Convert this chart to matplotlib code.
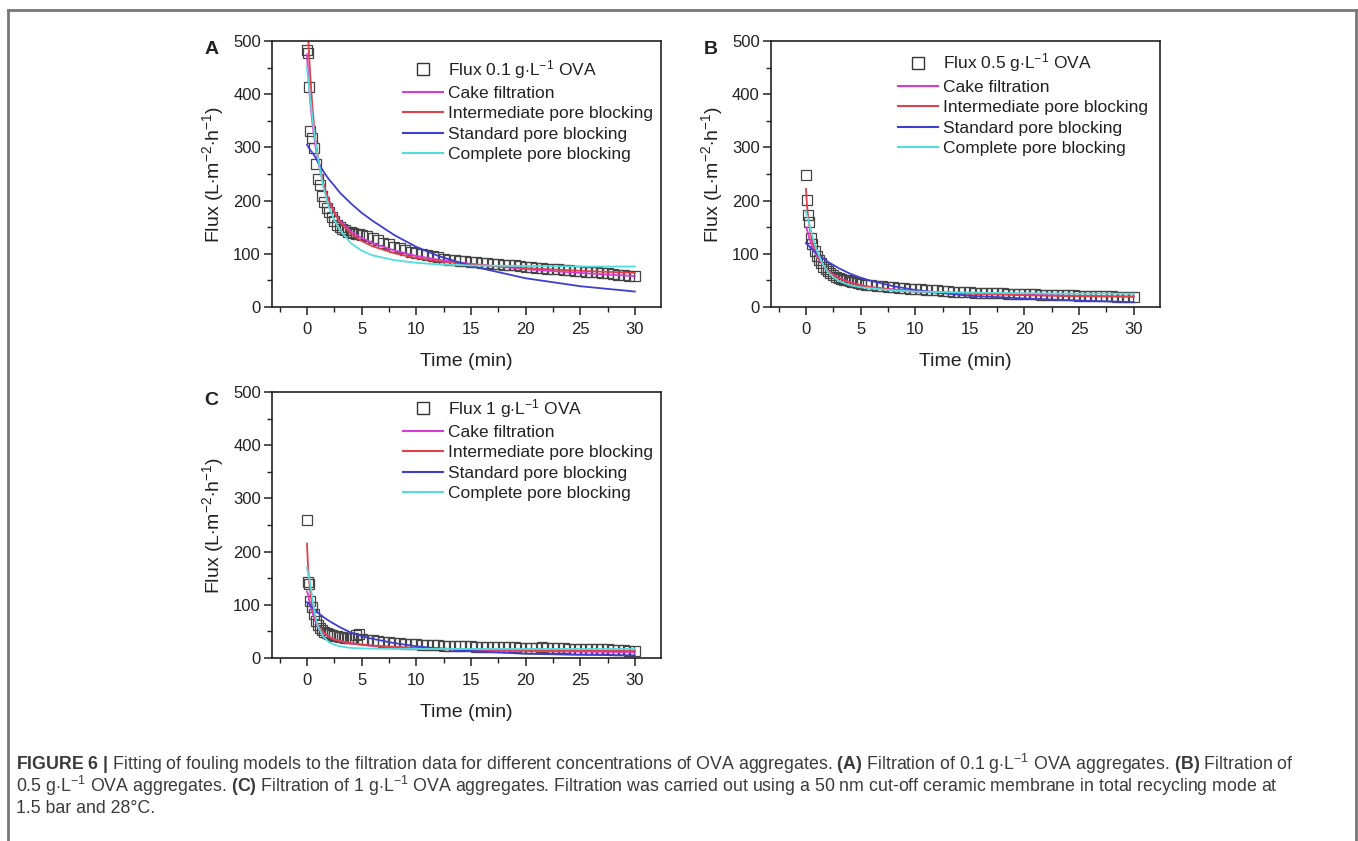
import matplotlib
matplotlib.use("Agg")
import matplotlib.pyplot as plt
from matplotlib.lines import Line2D
from matplotlib.ticker import MultipleLocator

plt.rcParams["font.family"] = ["Liberation Sans", "DejaVu Sans"]
plt.rcParams["mathtext.fontset"] = "custom"
plt.rcParams["mathtext.rm"] = "Liberation Sans"
plt.rcParams["mathtext.it"] = "Liberation Sans:italic"
plt.rcParams["mathtext.bf"] = "Liberation Sans:bold"

# measured flux (shared sampling times, min)
time_data = [0.0, 0.1, 0.2, 0.3, 0.45, 0.6, 0.8, 1.0, 1.2, 1.4, 1.6, 1.8, 2.0, 2.25,
             2.5, 2.75, 3.0, 3.25, 3.5, 3.75, 4.0, 4.25, 4.5, 4.75,
             5.0, 5.5, 6.0, 6.5, 7.0, 7.5, 8.0, 8.5, 9.0, 9.5, 10.0, 10.5, 11.0, 11.5,
             12.0, 12.5, 13.0, 13.5, 14.0, 14.5, 15.0, 15.5, 16.0, 16.5, 17.0, 17.5,
             18.0, 18.5, 19.0, 19.5, 20.0, 20.5, 21.0, 21.5, 22.0, 22.5, 23.0, 23.5,
             24.0, 24.5, 25.0, 25.5, 26.0, 26.5, 27.0, 27.5, 28.0, 28.5, 29.0, 29.5, 30.0]

flux_a = [483, 478, 413, 330, 318, 298, 268, 240, 230, 208, 198, 186, 178, 170,
          162, 155, 150, 146, 144, 141, 140, 139, 137, 138,
          136, 133, 130, 125, 121, 118, 113, 110, 107, 104, 101, 100, 97, 95,
          93, 91, 89, 88, 87, 86, 85, 84, 83, 82, 81, 80,
          79, 78, 78, 77, 76, 75, 74, 73, 72, 72, 71, 70,
          69, 68, 67, 66, 66, 65, 64, 63, 62, 61, 60, 59, 58]
flux_b = [248, 201, 172, 160, 130, 118, 105, 95, 88, 82, 76, 72, 68, 64,
          60, 57, 55, 53, 51, 50, 48, 47, 46, 45,
          44, 42, 41, 40, 39, 38, 37, 36, 35, 34, 33, 33, 32, 31,
          31, 30, 30, 29, 29, 28, 28, 27, 27, 27, 26, 26,
          26, 25, 25, 25, 24, 24, 24, 23, 23, 23, 22, 22,
          22, 22, 21, 21, 21, 20, 20, 20, 20, 19, 19, 19, 18]
flux_c = [260, 143, 140, 108, 95, 82, 70, 62, 56, 52, 49, 47, 45, 43,
          42, 41, 40, 39, 38, 38, 37, 38, 44, 45,
          36, 34, 33, 32, 31, 30, 29, 28, 27, 26, 26, 25, 25, 24,
          24, 23, 23, 23, 22, 22, 22, 21, 21, 21, 21, 20,
          20, 20, 20, 19, 19, 19, 19, 20, 18, 18, 18, 18,
          17, 17, 17, 17, 16, 16, 16, 16, 15, 15, 15, 14, 14]

# model fits
time_fit = [0, 0.1, 0.2, 0.3, 0.5, 0.75, 1, 1.5, 2, 2.5, 3, 4, 5, 6, 8, 10, 12, 15, 20, 25, 30]

cake_a = [475, 440, 410, 385, 345, 305, 275, 230, 200, 178, 162, 142, 130, 120, 106, 96, 89, 81, 71, 64, 58]
inter_a = [560, 510, 470, 435, 375, 320, 282, 232, 200, 177, 160, 138, 124, 114, 101, 92, 86, 80, 73, 68, 64]
std_a = [305, 302, 298, 295, 290, 282, 272, 255, 240, 228, 215, 195, 177, 162, 135, 113, 96, 77, 54, 39, 29]
comp_a = [450, 430, 410, 392, 355, 315, 280, 225, 188, 163, 145, 120, 106, 97, 88, 83, 80, 78, 77, 76, 76]

cake_b = [150, 145, 138, 130, 118, 105, 95, 80, 68, 61, 55, 47, 41, 37, 33, 30, 28, 26, 23, 21, 20]
inter_b = [222, 190, 170, 155, 130, 112, 98, 80, 68, 60, 54, 46, 41, 37, 32, 29, 27, 25, 22, 20, 19]
std_b = [120, 118, 116, 114, 110, 105, 100, 92, 85, 79, 73, 63, 55, 49, 39, 32, 27, 21, 16, 12, 9]
comp_b = [180, 172, 165, 157, 140, 122, 106, 82, 66, 56, 49, 41, 37, 35, 31, 29, 28, 27, 26, 25, 25]

cake_c = [125, 120, 108, 100, 85, 70, 58, 47, 40, 35, 32, 27, 25, 23, 20, 18, 17, 15, 13, 12, 11]
inter_c = [215, 170, 145, 125, 95, 75, 62, 48, 40, 35, 32, 28, 25, 23, 21, 19, 18, 16, 15, 14, 13]
std_c = [105, 103, 101, 99, 95, 90, 85, 77, 70, 64, 58, 48, 41, 36, 28, 22, 18, 13, 8, 6, 5]
comp_c = [170, 160, 150, 140, 110, 80, 60, 40, 30, 25, 22, 19, 18, 17.5, 17, 17, 17, 17, 17, 17, 17]

model_names = ["Cake filtration", "Intermediate pore blocking",
               "Standard pore blocking", "Complete pore blocking"]
model_colors = ["#d83ad8", "#e2404a", "#3f3fcf", "#55dcdc"]

panels = [
    ("A", "0.1", flux_a, [cake_a, inter_a, std_a, comp_a], [0.2003, 0.6350], (0.337, 0.937)),
    ("B", "0.5", flux_b, [cake_b, inter_b, std_b, comp_b], [0.5677, 0.6350], (0.326, 0.960)),
    ("C", "1", flux_c, [cake_c, inter_c, std_c, comp_c], [0.2003, 0.2176], (0.337, 0.982)),
]

TXT = "#222222"
fig = plt.figure(figsize=(13.58, 8.41), dpi=100)

for letter, conc, flux, fits, (x0, y0), leg_pos in panels:
    ax = fig.add_axes([x0, y0, 0.2865, 0.3163])
    ax.plot(time_data, flux, linestyle="none", marker="s", markersize=7,
            markerfacecolor="none", markeredgecolor="#444444", markeredgewidth=0.9)
    for vals, col in zip(fits, model_colors):
        ax.plot(time_fit, vals, color=col, linewidth=1.3)

    ax.set_xlim(-3.2, 32.4)
    ax.set_ylim(0, 500)
    ax.xaxis.set_major_locator(MultipleLocator(5))
    ax.xaxis.set_minor_locator(MultipleLocator(2.5))
    ax.yaxis.set_major_locator(MultipleLocator(100))
    ax.yaxis.set_minor_locator(MultipleLocator(50))
    ax.tick_params(which="major", direction="out", length=6, width=1.1,
                   labelsize=12, colors=TXT)
    ax.tick_params(axis="x", which="major", pad=5)
    ax.tick_params(axis="y", which="major", pad=2)
    ax.tick_params(which="minor", direction="out", length=3.5, width=1.0, colors=TXT)
    for sp in ax.spines.values():
        sp.set_linewidth(1.2)
        sp.set_color(TXT)

    ax.set_xlabel("Time (min)", fontsize=14, color=TXT, labelpad=11)
    ax.set_ylabel(r"Flux (L$\cdot$m$^{-2}$$\cdot$h$^{-1}$)", fontsize=14, color=TXT, labelpad=5)
    ax.text(-0.155, 1.0, letter, transform=ax.transAxes, fontsize=14,
            fontweight="bold", color=TXT, ha="center", va="top")

    handles = [Line2D([], [], linestyle="none", marker="s", markersize=8,
                      markerfacecolor="none", markeredgecolor="#333333", markeredgewidth=1.0)]
    handles += [Line2D([], [], color=c, linewidth=1.5) for c in model_colors]
    labels = [r"Flux %s g$\cdot$L$^{-1}$ OVA" % conc] + model_names
    ax.legend(handles, labels, loc="upper left", bbox_to_anchor=leg_pos, frameon=False,
              fontsize=12.5, handlelength=2.3, handletextpad=0.3, labelspacing=0.3,
              borderpad=0, borderaxespad=0, labelcolor=TXT)

# outer frame of the figure box
frame_kw = dict(color="#777777", linewidth=2, transform=fig.transFigure)
fig.add_artist(Line2D([8 / 1358, 8 / 1358], [0, 1 - 10 / 841], **frame_kw))
fig.add_artist(Line2D([8 / 1358, 1356 / 1358], [1 - 10 / 841, 1 - 10 / 841], **frame_kw))
fig.add_artist(Line2D([1356 / 1358, 1356 / 1358], [0, 1 - 10 / 841], **frame_kw))

caption = [
    r"$\mathbf{FIGURE\ 6\ |}$ Fitting of fouling models to the filtration data for different "
    r"concentrations of OVA aggregates. $\mathbf{(A)}$ Filtration of 0.1 g$\cdot$L$^{-1}$ "
    r"OVA aggregates. $\mathbf{(B)}$ Filtration of",
    r"0.5 g$\cdot$L$^{-1}$ OVA aggregates. $\mathbf{(C)}$ Filtration of 1 g$\cdot$L$^{-1}$ "
    r"OVA aggregates. Filtration was carried out using a 50 nm cut-off ceramic membrane "
    r"in total recycling mode at",
    r"1.5 bar and 28°C.",
]
for i, line in enumerate(caption):
    fig.text(16 / 1358, 1 - (770 + 21.5 * i) / 841, line, fontsize=12.8, color="#3a3a3a",
             ha="left", va="baseline")

fig.savefig("out.png", dpi=100)
